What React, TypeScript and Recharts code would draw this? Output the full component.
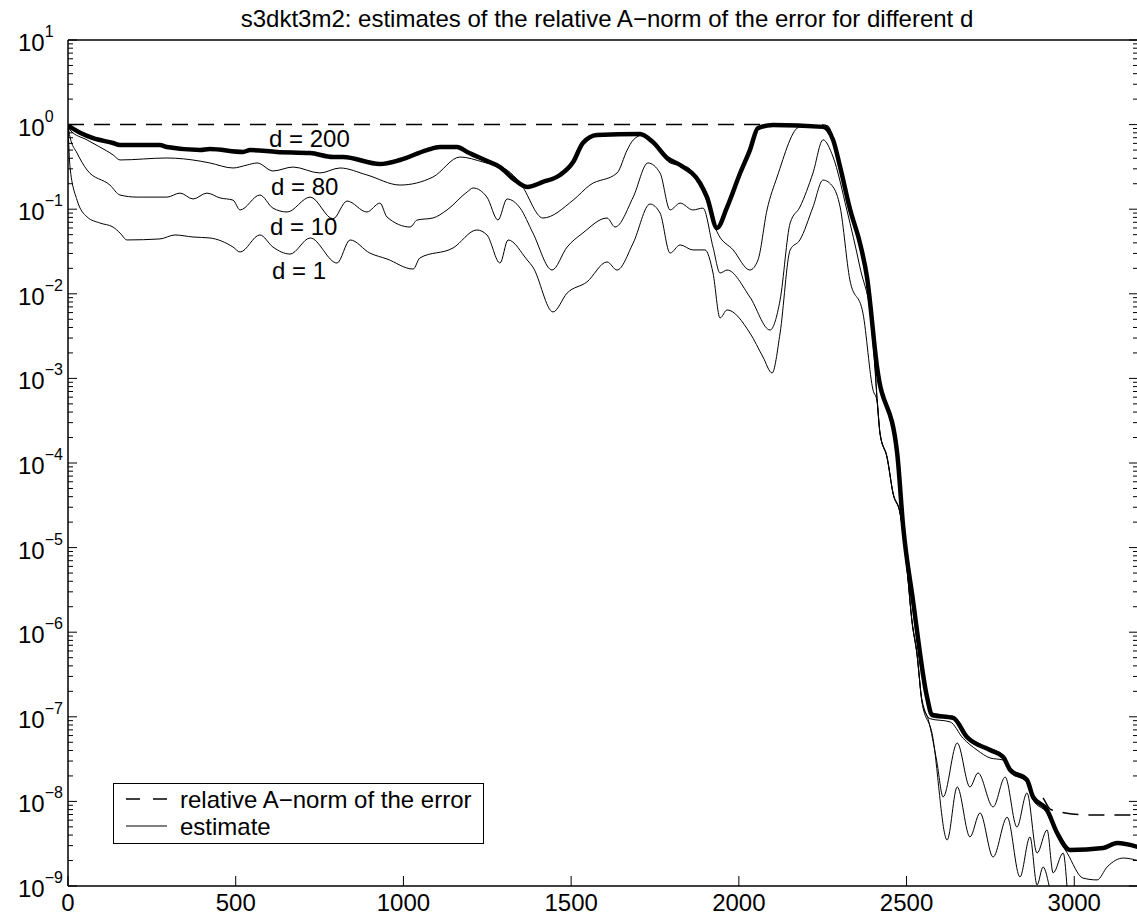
import React from "react";
import { LineChart, Line, XAxis, YAxis } from "recharts";

const FONT = "'Liberation Sans', Arial, Helvetica, sans-serif";

// plot box in page pixels
const LEFT = 68;
const TOP = 40;
const RIGHT = 1138;
const BOTTOM = 886;

const X_TICKS = [0, 500, 1000, 1500, 2000, 2500, 3000];
const Y_MAJOR = [1e-9, 1e-8, 1e-7, 1e-6, 1e-5, 1e-4, 1e-3, 1e-2, 1e-1, 1, 10];
const Y_EXP = ["\u22129", "\u22128", "\u22127", "\u22126", "\u22125", "\u22124", "\u22123", "\u22122", "\u22121", "0", "1"];
const MINOR_MULT = [2, 3, 4, 5, 6, 7, 8, 9];
const Y_MINOR = Y_MAJOR.slice(0, -1).flatMap((p) => MINOR_MULT.map((m) => m * p));
const Y_ALL = [...Y_MAJOR, ...Y_MINOR];

type Pt = [number, number];

// relative A-norm of the error (dashed)
const ERR: Pt[] = [
  [0, 1.0], [500, 1.0], [1000, 1.0], [1500, 1.0], [2000, 1.0], [2250, 0.99], [2265, 0.96],
  [2281, 0.7], [2302, 0.33], [2332, 0.105], [2361, 0.042], [2382, 0.017], [2412, 1.45e-3],
  [2472, 1.4e-4], [2490, 1.85e-5], [2519, 2.55e-6], [2561, 1.8e-7], [2576, 1.1e-7], [2639, 1.0e-7],
  [2680, 6.0e-8], [2749, 4.2e-8], [2788, 3.5e-8], [2809, 2.45e-8], [2859, 1.85e-8], [2877, 1.2e-8],
  [2904, 1.12e-8], [2928, 8.1e-9], [2973, 7.3e-9], [3047, 6.9e-9], [3190, 6.9e-9],
];

const D200: Pt[] = [
  [0, 0.97], [36, 0.8], [75, 0.69], [134, 0.606], [155, 0.574], [274, 0.574], [295, 0.543],
  [394, 0.501], [423, 0.515], [522, 0.475], [543, 0.5], [623, 0.475], [722, 0.461], [790, 0.414],
  [820, 0.414], [930, 0.342], [990, 0.382], [1070, 0.5], [1109, 0.543], [1160, 0.543], [1190, 0.475],
  [1250, 0.37], [1288, 0.315], [1327, 0.23], [1369, 0.183], [1416, 0.21], [1467, 0.254], [1506, 0.361],
  [1535, 0.606], [1577, 0.754], [1705, 0.775], [1744, 0.62], [1786, 0.403], [1825, 0.333], [1884, 0.204],
  [1905, 0.139], [1935, 0.06], [1965, 0.106], [2004, 0.268], [2033, 0.5], [2057, 0.91], [2102, 0.99],
  [2251, 0.94], [2281, 0.658], [2302, 0.315], [2332, 0.098], [2361, 0.0398], [2382, 0.0158],
  [2412, 1.36e-3], [2472, 1.31e-4], [2490, 1.75e-5], [2519, 2.4e-6], [2561, 1.71e-7], [2576, 1.05e-7],
  [2639, 9.7e-8], [2680, 5.77e-8], [2749, 4.05e-8], [2788, 3.35e-8], [2809, 2.35e-8], [2859, 1.79e-8],
  [2877, 1.13e-8], [2919, 7.9e-9], [2949, 4.23e-9], [2987, 2.67e-9], [3086, 2.81e-9], [3128, 3.22e-9],
  [3190, 2.89e-9],
];

const D80: Pt[] = [
  [0, 0.95], [6, 0.863], [57, 0.658], [95, 0.543], [134, 0.44], [155, 0.382], [295, 0.403], [394, 0.37],
  [423, 0.352], [492, 0.307], [534, 0.333], [564, 0.352], [611, 0.283], [671, 0.315], [751, 0.268],
  [811, 0.307], [891, 0.254], [990, 0.193], [1088, 0.24], [1169, 0.414], [1237, 0.361], [1309, 0.29],
  [1348, 0.204], [1416, 0.0787], [1506, 0.128], [1556, 0.193], [1637, 0.268], [1667, 0.5], [1685, 0.658],
  [1714, 0.754], [1744, 0.623], [1795, 0.352], [1846, 0.315], [1884, 0.193], [1914, 0.098], [1935, 0.054],
  [1983, 0.033], [2033, 0.0191], [2057, 0.0251], [2084, 0.098], [2114, 0.24], [2182, 0.94], [2251, 0.93],
  [2281, 0.64], [2302, 0.3], [2332, 0.09], [2361, 0.036], [2382, 0.013], [2400, 2.6e-3], [2412, 6.0e-4],
  [2421, 2.26e-4], [2442, 1.18e-4], [2460, 4.4e-5], [2481, 2.56e-5], [2501, 5.9e-6], [2516, 1.39e-6],
  [2531, 5.7e-7], [2546, 1.58e-7], [2570, 9.5e-8], [2630, 8.7e-8], [2668, 5.6e-8], [2710, 4.05e-8],
  [2749, 3.26e-8], [2788, 3.08e-8], [2809, 2.2e-8], [2859, 1.7e-8], [2877, 1.05e-8], [2919, 7.2e-9],
  [2949, 3.9e-9], [2979, 2.45e-9], [3026, 1.24e-9], [3068, 1.18e-9], [3098, 1.68e-9], [3146, 2.14e-9],
  [3190, 2.0e-9],
];

const D10: Pt[] = [
  [0, 0.97], [6, 0.713], [27, 0.461], [57, 0.29], [125, 0.193], [155, 0.147], [206, 0.139], [295, 0.139],
  [334, 0.155], [373, 0.132], [414, 0.155], [453, 0.136], [492, 0.128], [513, 0.098], [572, 0.147],
  [611, 0.103], [653, 0.0927], [722, 0.139], [790, 0.077], [832, 0.125], [891, 0.0927], [930, 0.118],
  [951, 0.0809], [1020, 0.0616], [1041, 0.0745], [1088, 0.0787], [1130, 0.098], [1190, 0.16], [1208, 0.178],
  [1249, 0.139], [1282, 0.0745], [1309, 0.132], [1348, 0.103], [1386, 0.0524], [1443, 0.0191],
  [1488, 0.0357], [1535, 0.0524], [1607, 0.0787], [1631, 0.0616], [1685, 0.139], [1729, 0.352],
  [1765, 0.268], [1795, 0.098], [1825, 0.118], [1863, 0.098], [1893, 0.103], [1923, 0.0357], [1944, 0.0176],
  [1965, 0.0191], [2033, 0.00916], [2093, 0.00373], [2123, 0.00845], [2153, 0.0687], [2182, 0.106],
  [2221, 0.268], [2251, 0.66], [2281, 0.414], [2322, 0.098], [2361, 0.0207], [2400, 3.44e-3],
  [2412, 5.6e-4], [2421, 2.2e-4], [2442, 1.15e-4], [2460, 4.3e-5], [2481, 2.5e-5], [2501, 5.8e-6],
  [2516, 1.35e-6], [2531, 5.5e-7], [2546, 1.5e-7], [2565, 9.2e-8], [2590, 3e-8], [2609, 1.13e-8],
  [2651, 4.9e-8], [2689, 1.48e-8], [2713, 2.17e-8], [2758, 8.6e-9], [2794, 1.94e-8], [2829, 4.98e-9],
  [2859, 1.26e-8], [2889, 2.45e-9], [2919, 4.6e-9], [2937, 1.43e-9], [2967, 2.45e-9], [2985, 5e-10],
  [3030, 1e-10], [3190, 1e-10],
];

const D1: Pt[] = [
  [0, 0.97], [3, 0.5], [6, 0.315], [27, 0.128], [57, 0.0809], [95, 0.0687], [134, 0.0616], [155, 0.0524],
  [176, 0.0433], [274, 0.0445], [319, 0.0496], [373, 0.0469], [423, 0.0457], [492, 0.0357], [513, 0.0312],
  [572, 0.0496], [611, 0.0357], [662, 0.0295], [722, 0.0457], [802, 0.0231], [841, 0.0433], [900, 0.0303],
  [951, 0.0258], [1029, 0.0196], [1049, 0.0265], [1148, 0.0348], [1219, 0.0568], [1249, 0.0496],
  [1288, 0.0231], [1312, 0.0433], [1369, 0.0251], [1386, 0.0207], [1446, 0.0061], [1488, 0.0102],
  [1547, 0.0138], [1607, 0.0238], [1637, 0.0191], [1685, 0.0398], [1735, 0.115], [1765, 0.0902],
  [1795, 0.0303], [1825, 0.0378], [1863, 0.033], [1899, 0.033], [1923, 0.0176], [1944, 0.00518],
  [1965, 0.00644], [2033, 0.00344], [2072, 0.00179], [2099, 0.00116], [2123, 0.00344], [2153, 0.033],
  [2182, 0.0433], [2221, 0.106], [2251, 0.221], [2281, 0.183], [2302, 0.106], [2331, 0.0146],
  [2370, 0.0059], [2400, 7.3e-4], [2412, 5.4e-4], [2421, 2.2e-4], [2442, 1.15e-4], [2460, 4.3e-5],
  [2481, 2.5e-5], [2501, 5.8e-6], [2516, 1.35e-6], [2531, 5.5e-7], [2546, 1.5e-7], [2576, 6.4e-8],
  [2621, 3.5e-9], [2651, 1.48e-8], [2689, 3.8e-9], [2719, 7.3e-9], [2758, 2.2e-9], [2800, 6.5e-9],
  [2838, 1.28e-9], [2868, 3.8e-9], [2889, 1.03e-9], [2907, 1.68e-9], [2928, 9e-10], [2960, 2e-10],
  [3190, 1e-10],
];

const CURVE_LABELS = [
  { text: "d = 200", x: 269, y: 147 },
  { text: "d = 80", x: 271, y: 195 },
  { text: "d = 10", x: 270, y: 235 },
  { text: "d = 1", x: 272, y: 279 },
];

const rows = (pts: Pt[]) => pts.map(([x, v]) => ({ x, v }));

function LeftTick(props: any) {
  const { y, payload } = props;
  const i = Y_MAJOR.indexOf(payload.value);
  const major = i >= 0;
  return (
    <g>
      <line x1={LEFT} x2={LEFT + (major ? 9 : 5)} y1={y} y2={y} stroke="#000" strokeWidth={1} />
      {major && (
        <text x={18} y={y + 11} fontSize={24} fontFamily={FONT} fill="#000">
          10
          <tspan dy={-14} fontSize={16}>
            {Y_EXP[i]}
          </tspan>
        </text>
      )}
    </g>
  );
}

function RightTick(props: any) {
  const { y, payload } = props;
  const major = Y_MAJOR.indexOf(payload.value) >= 0;
  return <line x1={RIGHT} x2={RIGHT - (major ? 9 : 5)} y1={y} y2={y} stroke="#000" strokeWidth={1} />;
}

function BottomTick(props: any) {
  const { x, payload } = props;
  return (
    <g>
      <line x1={x} x2={x} y1={BOTTOM} y2={BOTTOM - 10} stroke="#000" strokeWidth={1} />
      <text x={x} y={911} textAnchor="middle" fontSize={24} fontFamily={FONT} fill="#000">
        {payload.value}
      </text>
    </g>
  );
}

function TopTick(props: any) {
  const { x } = props;
  return <line x1={x} x2={x} y1={TOP} y2={TOP + 10} stroke="#000" strokeWidth={1} />;
}

export default function App() {
  return (
    <div style={{ position: "absolute", left: 0, top: 0, width: 1137, height: 917, overflow: "hidden", background: "#fff" }}>
      <LineChart width={1145} height={917} margin={{ top: 0, right: 0, bottom: 0, left: 8 }}>
        <XAxis
          xAxisId={0}
          dataKey="x"
          type="number"
          domain={[0, 3190]}
          allowDataOverflow
          ticks={X_TICKS}
          interval={0}
          height={31}
          tickLine={false}
          axisLine={{ stroke: "#000", strokeWidth: 1.5 }}
          tick={<BottomTick />}
        />
        <XAxis
          xAxisId="top"
          orientation="top"
          type="number"
          domain={[0, 3190]}
          allowDataOverflow
          ticks={X_TICKS}
          interval={0}
          height={40}
          tickLine={false}
          axisLine={{ stroke: "#000", strokeWidth: 1.5 }}
          tick={<TopTick />}
        />
        <YAxis
          yAxisId={0}
          type="number"
          scale="log"
          domain={[1e-9, 10]}
          allowDataOverflow
          ticks={Y_ALL}
          interval={0}
          width={60}
          tickLine={false}
          axisLine={{ stroke: "#000", strokeWidth: 1.5 }}
          tick={<LeftTick />}
        />
        <YAxis
          yAxisId="r"
          orientation="right"
          type="number"
          scale="log"
          domain={[1e-9, 10]}
          allowDataOverflow
          ticks={Y_ALL}
          interval={0}
          width={7}
          tickLine={false}
          axisLine={{ stroke: "#000", strokeWidth: 1.5 }}
          tick={<RightTick />}
        />
        <Line
          data={rows(ERR)}
          dataKey="v"
          type="monotone"
          stroke="#000"
          strokeWidth={1.5}
          strokeDasharray="16 10"
          dot={false}
          activeDot={false}
          isAnimationActive={false}
        />
        <Line data={rows(D1)} dataKey="v" type="monotone" stroke="#000" strokeWidth={1} dot={false} activeDot={false} isAnimationActive={false} />
        <Line data={rows(D10)} dataKey="v" type="monotone" stroke="#000" strokeWidth={1} dot={false} activeDot={false} isAnimationActive={false} />
        <Line data={rows(D80)} dataKey="v" type="monotone" stroke="#000" strokeWidth={1} dot={false} activeDot={false} isAnimationActive={false} />
        <Line
          data={rows(D200)}
          dataKey="v"
          type="monotone"
          stroke="#000"
          strokeWidth={4.5}
          strokeLinejoin="round"
          dot={false}
          activeDot={false}
          isAnimationActive={false}
        />
      </LineChart>
      <svg
        width={1137}
        height={917}
        style={{ position: "absolute", left: 0, top: 0, pointerEvents: "none" }}
        fontFamily={FONT}
      >
        <text x={607} y={27} textAnchor="middle" fontSize={24} fill="#000">
          s3dkt3m2: estimates of the relative A{"\u2212"}norm of the error for different d
        </text>
        {CURVE_LABELS.map((l) => (
          <text key={l.text} x={l.x} y={l.y} fontSize={24} fill="#000">
            {l.text}
          </text>
        ))}
        <rect x={113.5} y={783.5} width={370} height={60} fill="#fff" stroke="#000" strokeWidth={1} />
        <line x1={126} x2={167} y1={799} y2={799} stroke="#000" strokeWidth={1.5} strokeDasharray="14 13" />
        <text x={180} y={808} fontSize={24} fill="#000">
          relative A{"\u2212"}norm of the error
        </text>
        <line x1={126} x2={167} y1={826} y2={826} stroke="#000" strokeWidth={1} />
        <text x={180} y={835} fontSize={24} fill="#000">
          estimate
        </text>
      </svg>
    </div>
  );
}
